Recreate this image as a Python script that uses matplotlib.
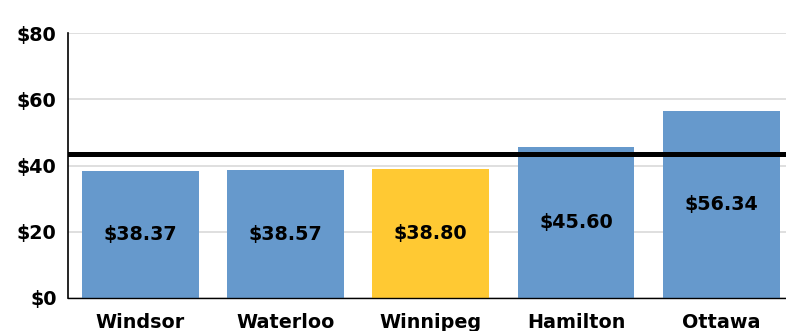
import matplotlib.pyplot as plt
import numpy as np

cities = ["Windsor", "Waterloo", "Winnipeg", "Hamilton", "Ottawa"]
prices = [38.37, 38.57, 38.80, 45.60, 56.34]
bar_colors = ["#6699CC", "#6699CC", "#FFC933", "#6699CC", "#6699CC"]
average = 43.6
yticks = [0, 20, 40, 60, 80]

font_size = 13.8
plt.rcParams["font.family"] = "DejaVu Sans"
plt.rcParams["font.weight"] = "bold"

fig = plt.figure(figsize=(7.86, 3.31), dpi=100)
ax = fig.add_axes([0.0862, 0.0997, 0.9238, 0.8006])

x = np.arange(len(cities))
bars = ax.bar(x, prices, width=0.805, color=bar_colors, zorder=2)
for b, v in zip(bars, prices):
    ax.text(b.get_x() + b.get_width() / 2, v / 2, "${:.2f}".format(v),
            ha="center", va="center", fontsize=font_size, fontweight="bold", zorder=3)

# average line across the whole plot
ax.axhline(average, color="black", linewidth=3.6, zorder=4)

ax.set_xlim(-0.5, len(cities) - 0.5)
ax.set_ylim(0, 80)
ax.set_yticks(yticks)
ax.set_yticklabels(["${}".format(t) for t in yticks], fontsize=font_size, fontweight="bold")
ax.set_xticks(x)
ax.set_xticklabels(cities, fontsize=font_size, fontweight="bold")
ax.tick_params(axis="both", length=0)
ax.tick_params(axis="y", pad=8)
ax.tick_params(axis="x", pad=10.5)
ax.yaxis.grid(True, color="#D9D9D9", linewidth=1.2, zorder=0)
ax.set_axisbelow(True)
for s in ["top", "right"]:
    ax.spines[s].set_visible(False)
ax.spines["left"].set_linewidth(1.2)
ax.spines["bottom"].set_linewidth(1.0)

fig.savefig("out.png", dpi=100)
